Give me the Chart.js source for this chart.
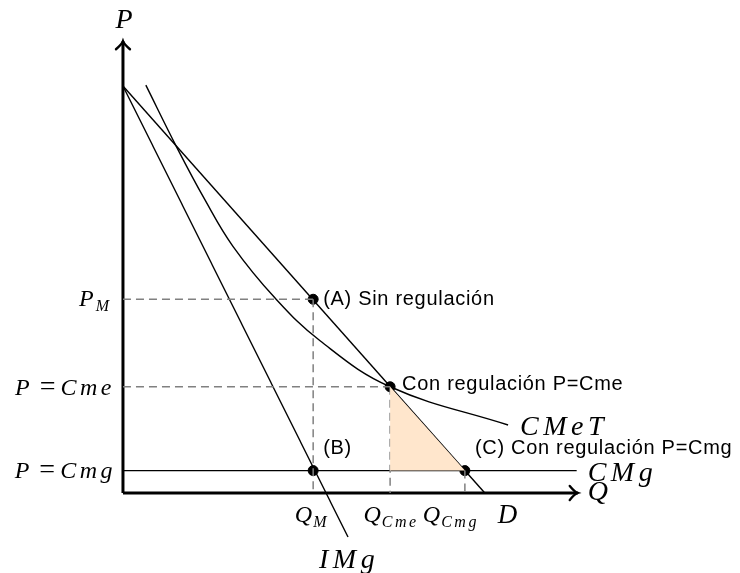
<!DOCTYPE html>
<html>
<head>
<meta charset="utf-8">
<script src="https://cdn.jsdelivr.net/npm/chart.js@4"></script>
<style>
  body { margin: 0; background: #fff; }
</style>
</head>
<body>
<canvas id="chart" width="740" height="573"></canvas>
<script>
// key equilibrium values (Q, P)
const qM = 5.24, pM = 4.76;
const qCme = 7.36, pCme = 2.61;
const qCmg = 9.42, pCmg = 0.55;

// curves
const demandQ = [0, 9.97];
const demandP = [10, 0];
const imgQ = [0, 6.2];
const imgP = [10, -1.08];
const cmetQ = [0.63, 1.49, 2.26, 3.03, 4.19, 5.43, 7.36, 10.61];
const cmetP = [10.02, 8.48, 7.20, 6.06, 4.79, 3.74, 2.61, 1.67];
const cmgQ = [0, 12.5];
const axisQmax = 12.53, axisPmax = 11.1;

const pts = (xs, ys) => xs.map((x, i) => ({x: x, y: ys[i]}));

const black = '#000';
const grey = '#808080';
const dash = [8, 5];

function line(data, extra) {
  return Object.assign({
    data: data, showLine: true, borderColor: black, borderWidth: 1.4,
    pointRadius: 0, fill: false, tension: 0
  }, extra || {});
}

const serif = '"Liberation Serif"';
const big = 'italic 28px ' + serif;
const small = 'italic 24px ' + serif;
const sub = 'italic 16px ' + serif;
const upright = '28px ' + serif;

// pieces: {t, f, sub, ls (letter spacing), gap (after)}
function drawPieces(ctx, pieces, x, y, align) {
  const width = p => {
    ctx.font = p.f; ctx.letterSpacing = (p.ls || 0) + 'px';
    return ctx.measureText(p.t).width + (p.gap || 0);
  };
  let w = 0;
  pieces.forEach(p => { w += width(p); });
  let cx = align === 'right' ? x - w : align === 'center' ? x - w / 2 : x;
  pieces.forEach(p => {
    const pw = width(p);
    ctx.fillText(p.t, cx, y + (p.sub ? 5 : 0));
    cx += pw;
  });
  ctx.letterSpacing = '0px';
}

const overlay = {
  id: 'overlay',
  afterDatasetsDraw(chart) {
    const ctx = chart.ctx, xs = chart.scales.x, ys = chart.scales.y;
    const X = v => xs.getPixelForValue(v), Y = v => ys.getPixelForValue(v);
    ctx.save();
    // arrow heads
    ctx.strokeStyle = black; ctx.lineWidth = 2.4; ctx.lineCap = 'round';
    const ty = Y(axisPmax), tx = X(axisQmax);
    ctx.beginPath();
    ctx.moveTo(X(0) - 7, ty + 8); ctx.quadraticCurveTo(X(0) - 1, ty + 3, X(0), ty);
    ctx.quadraticCurveTo(X(0) + 1, ty + 3, X(0) + 7, ty + 8);
    ctx.moveTo(tx - 8, Y(0) - 7); ctx.quadraticCurveTo(tx - 3, Y(0) - 1, tx, Y(0));
    ctx.quadraticCurveTo(tx - 3, Y(0) + 1, tx - 8, Y(0) + 7);
    ctx.stroke();

    ctx.fillStyle = black;
    ctx.textBaseline = 'alphabetic';
    ctx.textAlign = 'left';
    // axis names
    drawPieces(ctx, [{t: 'P', f: big}], X(0) + 1, ty - 13, 'center');
    drawPieces(ctx, [{t: 'Q', f: big}], tx + 10, Y(0) + 7, 'left');
    // price labels
    drawPieces(ctx, [{t: 'P', f: small, gap: 2}, {t: 'M', f: sub, sub: true}], X(0) - 14, Y(pM) + 7, 'right');
    drawPieces(ctx, [{t: 'P', f: small, gap: 10}, {t: '=', f: upright, gap: 5}, {t: 'Cme', f: small, ls: 3.5}], X(0) - 8, Y(pCme) + 8, 'right');
    drawPieces(ctx, [{t: 'P', f: small, gap: 10}, {t: '=', f: upright, gap: 5}, {t: 'Cmg', f: small, ls: 3.5}], X(0) - 7, Y(pCmg) + 7, 'right');
    // quantity labels
    drawPieces(ctx, [{t: 'Q', f: small, gap: 1}, {t: 'M', f: sub, sub: true, ls: 1}], X(qM) - 2, Y(0) + 29, 'center');
    drawPieces(ctx, [{t: 'Q', f: small, gap: 1}, {t: 'Cme', f: sub, sub: true, ls: 2.5}], X(qCme) + 1, Y(0) + 29, 'center');
    drawPieces(ctx, [{t: 'Q', f: small, gap: 1}, {t: 'Cmg', f: sub, sub: true, ls: 2.5}], X(qCmg) - 14, Y(0) + 29, 'center');
    // curve names
    drawPieces(ctx, [{t: 'D', f: 'italic 27px ' + serif}], X(demandQ[1]) + 13, Y(0) + 30, 'left');
    drawPieces(ctx, [{t: 'IMg', f: big, ls: 4.5}], X(imgQ[1]) - 29, Y(imgP[1]) + 31, 'left');
    drawPieces(ctx, [{t: 'CMeT', f: big, ls: 4.5}], X(cmetQ[cmetQ.length - 1]) + 12, Y(cmetP[cmetP.length - 1]) + 10, 'left');
    drawPieces(ctx, [{t: 'CMg', f: big, ls: 4.5}], X(cmgQ[1]) + 11, Y(pCmg) + 10, 'left');
    // point notes
    ctx.font = '20px "Liberation Sans"';
    ctx.letterSpacing = '0.7px';
    ctx.textBaseline = 'middle';
    ctx.fillText('(A) Sin regulación', X(qM) + 10, Y(pM));
    ctx.fillText('Con regulación P=Cme', X(qCme) + 12, Y(pCme) - 2);
    ctx.fillText('(B)', X(qM) + 10, Y(pCmg) - 22);
    ctx.fillText('(C) Con regulación P=Cmg', X(qCmg) + 10, Y(pCmg) - 22);
    ctx.letterSpacing = '0px';
    ctx.restore();
  }
};

new Chart(document.getElementById('chart'), {
  type: 'scatter',
  data: {
    datasets: [
      // surplus triangle between demand and CMg
      line(pts([qCme, qCmg], [pCme, pCmg]), {borderWidth: 0, fill: {value: pCmg}, backgroundColor: '#ffe6cc'}),
      // guide lines
      line(pts([0, qM], [pM, pM]), {borderColor: grey, borderDash: dash, borderWidth: 1.5}),
      line(pts([qM, qM], [pM, 0]), {borderColor: grey, borderDash: dash, borderWidth: 1.5}),
      line(pts([0, qCme], [pCme, pCme]), {borderColor: grey, borderDash: dash, borderWidth: 1.5}),
      line(pts([qCme, qCme], [pCme, 0]), {borderColor: grey, borderDash: dash, borderWidth: 1.5}),
      line(pts([qCmg, qCmg], [pCmg, 0]), {borderColor: grey, borderDash: dash, borderWidth: 1.5}),
      // curves
      line(pts(cmgQ, [pCmg, pCmg])),
      line(pts(demandQ, demandP)),
      line(pts(imgQ, imgP)),
      line(pts(cmetQ, cmetP), {tension: 0.4}),
      // axes
      line(pts([0, 0], [0, axisPmax]), {borderWidth: 3}),
      line(pts([0, axisQmax], [0, 0]), {borderWidth: 3}),
      // equilibrium points
      {data: pts([qM, qCme, qM, qCmg], [pM, pCme, pCmg, pCmg]), pointRadius: 5,
       pointBackgroundColor: black, pointBorderColor: black, showLine: false}
    ]
  },
  options: {
    responsive: false,
    animation: false,
    layout: {padding: 0, autoPadding: false},
    plugins: {legend: {display: false}, tooltip: {enabled: false}},
    scales: {
      x: {type: 'linear', display: false, min: -3.388, max: 17.0},
      y: {type: 'linear', display: false, min: -1.966, max: 12.113}
    }
  },
  plugins: [overlay]
});
</script>
</body>
</html>
